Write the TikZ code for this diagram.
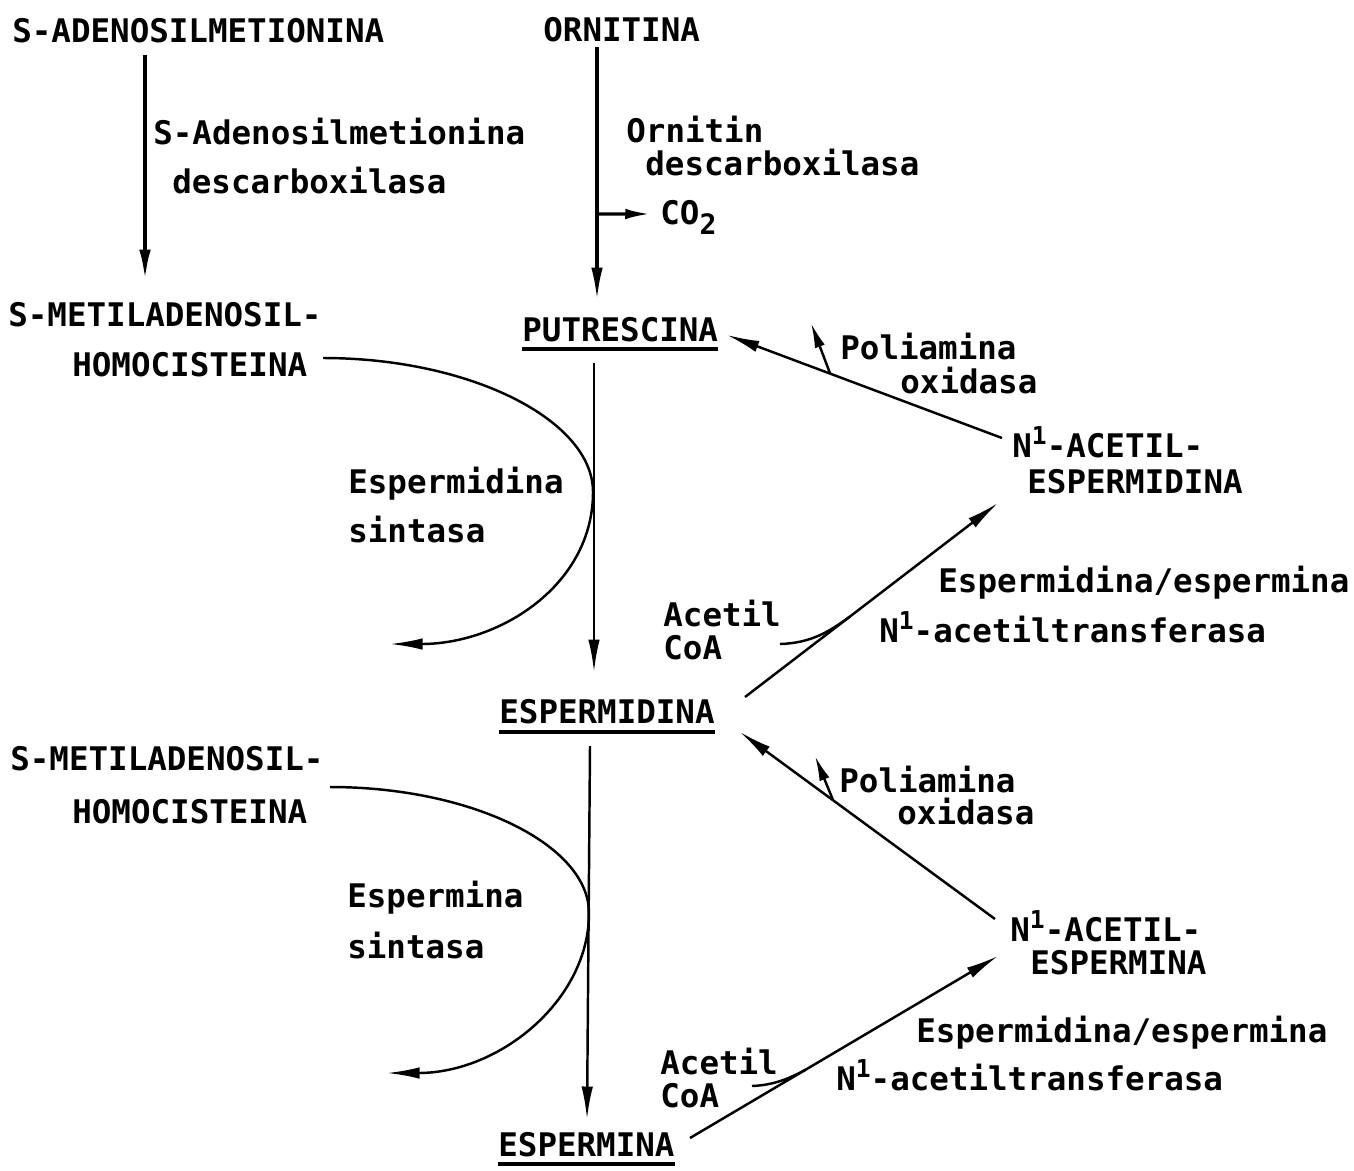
\documentclass[tikz,border=0pt]{standalone}
\usepackage{fontspec}
\newfontfamily\mono{DejaVu Sans Mono Bold}
\usetikzlibrary{arrows.meta}
\begin{document}
\begin{tikzpicture}[x=0.2mm,y=-0.2mm,>={Latex[length=6.5mm,width=2.3mm]},
  lbl/.style={inner sep=0pt,anchor=base west,font=\mono\fontsize{18.5}{22}\selectfont},
  conn/.style={->,line width=1.4pt},
  side/.style={-{Latex[length=5mm,width=2.1mm]},line width=1.4pt},
  uline/.style={line width=1.8pt}]
\useasboundingbox (0,0) rectangle (1354,1170);
\node[lbl] (sam) at (12,42) {S-ADENOSILMETIONINA};
\node[lbl] (orn) at (543,41) {ORNITINA};
\node[lbl] (sadc1) at (153,144) {S-Adenosilmetionina};
\node[lbl] (sadc2) at (172,193) {descarboxilasa};
\node[lbl] (odc1) at (626,142) {Ornitin};
\node[lbl] (odc2) at (645,175) {descarboxilasa};
\node[lbl] (co2) at (660,224) {CO\raisebox{-0.6ex}{\fontsize{16}{16}\selectfont 2}};
\node[lbl] (mtaA1) at (8,326) {S-METILADENOSIL-};
\node[lbl] (mtaA2) at (72,376) {HOMOCISTEINA};
\node[lbl] (put) at (522,341) {PUTRESCINA};
\node[lbl] (spds1) at (348,493) {Espermidina};
\node[lbl] (spds2) at (348,542) {sintasa};
\node[lbl] (spd) at (499,723) {ESPERMIDINA};
\node[lbl] (acoA1) at (663,626) {Acetil};
\node[lbl] (acoA2) at (663,659) {CoA};
\node[lbl] (ssatA1) at (938,592) {Espermidina/espermina};
\node[lbl] (ssatA2) at (879,642) {N\raisebox{0.7ex}{\fontsize{14}{14}\selectfont 1}-acetiltransferasa};
\node[lbl] (nspd1) at (1012,457) {N\raisebox{0.7ex}{\fontsize{14}{14}\selectfont 1}-ACETIL-};
\node[lbl] (nspd2) at (1027,493) {ESPERMIDINA};
\node[lbl] (paoA1) at (840,359) {Poliamina};
\node[lbl] (paoA2) at (900,393) {oxidasa};
\node[lbl] (mtaB1) at (10,770) {S-METILADENOSIL-};
\node[lbl] (mtaB2) at (72,823) {HOMOCISTEINA};
\node[lbl] (spms1) at (347,907) {Espermina};
\node[lbl] (spms2) at (347,958) {sintasa};
\node[lbl] (spm) at (498,1156) {ESPERMINA};
\node[lbl] (acoB1) at (660,1074) {Acetil};
\node[lbl] (acoB2) at (660,1107) {CoA};
\node[lbl] (ssatB1) at (916,1042) {Espermidina/espermina};
\node[lbl] (ssatB2) at (836,1090) {N\raisebox{0.7ex}{\fontsize{14}{14}\selectfont 1}-acetiltransferasa};
\node[lbl] (nspm1) at (1010,941) {N\raisebox{0.7ex}{\fontsize{14}{14}\selectfont 1}-ACETIL-};
\node[lbl] (nspm2) at (1030,974) {ESPERMINA};
\node[lbl] (paoB1) at (839,792) {Poliamina};
\node[lbl] (paoB2) at (897,824) {oxidasa};
\coordinate (sdA) at (390,644);
\coordinate (sdB) at (387,1073);
\coordinate (oxA) at (811,323);
\coordinate (oxB) at (815,756);
\draw[uline] ([shift={(0,8)}]put.base west) -- ([shift={(0,8)}]put.base east);
\draw[uline] ([shift={(0,9)}]spd.base west) -- ([shift={(0,9)}]spd.base east);
\draw[uline] ([shift={(0,8)}]spm.base west) -- ([shift={(0,8)}]spm.base east);
\draw[conn,line width=2.4pt] ([shift={(133,13)}]sam.base west) -- ([shift={(137,-44)}]mtaA1.base west);
\draw[conn,line width=1.8pt] ([shift={(54,6)}]orn.base west) -- coordinate[pos=0.66] (cobr) ([shift={(75,-41)}]put.base west);
\draw[side,line width=1.8pt,shorten >=1pt] (cobr) -- ([shift={(-8,-10)}]co2.base west);
\draw[conn] ([shift={(72,22)}]put.base west) -- ([shift={(95,-51)}]spd.base west);
\draw[conn] ([shift={(91,23)}]spd.base west) -- ([shift={(89,-37)}]spm.base west);
\draw[conn] ([shift={(251,-18)}]mtaA2.base west) .. controls (470,358) and (593,420) .. (593,492)
  .. controls (593,585) and (500,644) .. (sdA);
\draw[conn] ([shift={(258,-36)}]mtaB2.base west) .. controls (472,787) and (589,845) .. (589,913)
  .. controls (589,1000) and (500,1073) .. (sdB);
\draw[conn] ([shift={(246,-26)}]spd.base west) -- coordinate[pos=0.415] (jA) ([shift={(-29,10)}]nspd2.base west);
\draw[line width=1.4pt] ([shift={(117,-15)}]acoA2.base west) .. controls (812,643) and (830,631) .. (jA);
\draw[conn] ([shift={(192,-18)}]spm.base west) -- coordinate[pos=0.375] (jB) ([shift={(-32,-18)}]nspm2.base west);
\draw[line width=1.4pt] ([shift={(92,-21)}]acoB2.base west) .. controls (775,1085) and (790,1078) .. (jB);
\draw[conn] ([shift={(-10,-19)}]nspd1.base west) -- coordinate[pos=0.625] (brA) ([shift={(205,-6)}]put.base west);
\draw[side] (brA) -- (oxA);
\draw[conn] ([shift={(-15,-22)}]nspm1.base west) -- coordinate[pos=0.635] (brB) ([shift={(241,9)}]spd.base west);
\draw[side] (brB) -- (oxB);
\end{tikzpicture}
\end{document}
